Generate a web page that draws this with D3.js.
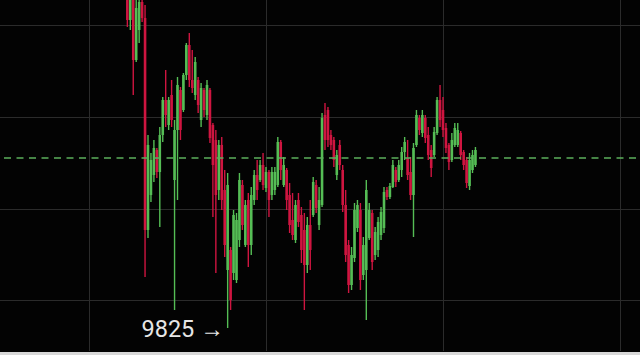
<!DOCTYPE html>
<html>
<head>
<meta charset="utf-8">
<script src="https://cdn.jsdelivr.net/npm/d3@7"></script>
<style>
  html, body { margin: 0; padding: 0; background: #000; }
  svg { display: block; }
</style>
</head>
<body>
<svg id="chart" width="640" height="355"></svg>
<script>
// minute of each candle, counted from the first vertical grid line
var minutes = d3.range(13, 132);

var open = [10168,10133,10153,10093,10123,10151,10135,9923,9958,9978,10003,9981,10018,10053,10028,10058,9973,10023,10063,10043,
            10078,10108,10073,10058,10073,10033,10063,10038,10063,10028,10013,9963,10008,9963,9883,9903,9880,9873,9913,9968,
            9908,9953,9908,9953,9978,9973,9988,9965,9981,9958,9963,9968,10011,9968,9983,9958,9933,9913,9953,9938,
            9923,9888,9928,9938,9968,9928,9948,10038,10043,10018,10013,9978,10008,9983,9948,9908,9868,9895,9925,9943,
            9878,9883,9915,9940,9898,9903,9918,9925,9963,9956,9966,9983,9973,9983,10001,9995,9981,9958,10008,10035,
            10020,10035,10018,10003,9998,10020,10053,10043,10025,10008,9993,10008,10008,10020,10001,9993,9967,9983,9988];
var high = [10178,10163,10158,10158,10163,10163,10148,10018,10000,10013,10005,10026,10056,10083,10056,10073,10033,10076,10066,10080,
            10110,10120,10103,10096,10076,10070,10065,10073,10065,10030,10023,10013,10016,9983,9980,9906,9943,9940,9980,9973,
            9953,9960,9966,9983,9993,9993,10000,9986,9983,9986,9986,10016,10013,9996,9985,9970,9960,9953,9960,9946,
            9940,9936,9953,9976,9973,9966,10040,10050,10046,10023,10016,10003,10013,9988,9963,9913,9906,9950,9953,9950,
            9916,9973,9950,9943,9926,9936,9946,9966,9966,9970,9993,9986,9993,10006,10016,10013,9996,10010,10043,10038,
            10043,10038,10026,10008,10026,10056,10068,10056,10030,10010,10020,10030,10030,10022,10003,9996,10000,10003,10006];
var low = [10126,10123,10058,10091,10110,10131,9876,9915,9951,9971,9975,9926,10011,10026,10023,10026,9843,9953,10013,10041,
           10073,10066,10060,10053,10040,10026,10036,10033,10010,9936,9880,9953,9943,9896,9825,9843,9873,9870,9906,9923,
           9906,9886,9898,9948,9953,9971,9963,9961,9936,9953,9958,9966,9973,9966,9943,9920,9913,9910,9926,9890,
           9843,9880,9883,9936,9940,9923,9946,10003,10006,10003,9986,9973,9983,9941,9891,9860,9863,9891,9921,9863,
           9873,9833,9913,9883,9893,9896,9913,9920,9953,9954,9965,9966,9971,9976,9993,9973,9953,9916,10006,10018,
           10016,10010,9993,9976,9996,10018,10026,10016,10000,9983,9991,10006,10006,9993,9983,9965,9963,9980,9986];
var close = [10133,10153,10093,10145,10151,10135,9923,10008,9993,10005,9981,10018,10053,10038,10053,10033,10023,10068,10023,10078,
             10108,10073,10065,10091,10048,10065,10043,10068,10015,9988,9958,10008,9953,9908,9968,9853,9938,9933,9973,9928,
             9948,9908,9958,9978,9963,9988,9968,9981,9953,9981,9981,10011,9983,9988,9953,9928,9918,9948,9931,9903,
             9888,9928,9903,9971,9945,9953,10035,10013,10013,10008,9993,9998,9988,9948,9898,9868,9898,9943,9948,9873,
             9908,9963,9943,9891,9921,9931,9941,9961,9956,9967,9988,9971,9988,10001,10011,9978,9958,10005,10038,10023,
             10038,10015,9998,9985,10021,10053,10033,10023,10005,9991,10013,10025,10023,9998,9988,9970,9993,9998,10003];

// dashed reference price and horizontal grid levels
var refPrice = 9995;
var gridLevels = [10128, 10036, 9944, 9853];
var gridMinutes = [0, 60, 120, 180];

var width = 640, height = 355, plotBottom = 351;

var data = minutes.map(function(m, i) {
  return { t: m, o: open[i], h: high[i], l: low[i], c: close[i] };
});

var x = d3.scaleLinear().domain([0, 60]).range([89, 266]);
var y = d3.scaleLinear().domain([9825, 10153]).range([328, 0]);

var svg = d3.select("#chart");

svg.append("rect")
   .attr("width", width)
   .attr("height", height)
   .attr("fill", "#030303");

var plot = svg.append("g");

// grid
plot.selectAll(".hgrid")
    .data(gridLevels)
    .enter()
    .append("line")
    .attr("class", "hgrid")
    .attr("x1", 0)
    .attr("x2", width)
    .attr("y1", function(d) { return Math.round(y(d)) + 0.5; })
    .attr("y2", function(d) { return Math.round(y(d)) + 0.5; })
    .attr("stroke", "#2b2b2b")
    .attr("stroke-width", 1);

plot.selectAll(".vgrid")
    .data(gridMinutes)
    .enter()
    .append("line")
    .attr("class", "vgrid")
    .attr("x1", function(d) { return Math.round(x(d)) + 0.5; })
    .attr("x2", function(d) { return Math.round(x(d)) + 0.5; })
    .attr("y1", 0)
    .attr("y2", plotBottom)
    .attr("stroke", "#2b2b2b")
    .attr("stroke-width", 1);

var up = "#55bd55", down = "#cf1540";

function color(d) { return d.c >= d.o ? up : down; }

var candles = plot.selectAll(".candle")
    .data(data)
    .enter()
    .append("g")
    .attr("class", "candle");

candles.append("line")
    .attr("x1", function(d) { return x(d.t); })
    .attr("x2", function(d) { return x(d.t); })
    .attr("y1", function(d) { return y(d.h); })
    .attr("y2", function(d) { return y(d.l); })
    .attr("stroke", color)
    .attr("stroke-width", 1.4);

candles.append("rect")
    .attr("x", function(d) { return x(d.t) - 1.3; })
    .attr("width", 2.6)
    .attr("y", function(d) { return y(Math.max(d.o, d.c)); })
    .attr("height", function(d) { return Math.max(1, Math.abs(y(d.o) - y(d.c))); })
    .attr("fill", color);

// reference line
plot.append("line")
    .attr("x1", 4)
    .attr("x2", width)
    .attr("y1", y(refPrice))
    .attr("y2", y(refPrice))
    .attr("stroke", "#5cb05c")
    .attr("stroke-width", 1.3)
    .attr("stroke-dasharray", "7,5.5");

// low marker
var lowest = data.reduce(function(a, b) { return b.l < a.l ? b : a; });

svg.append("text")
   .attr("x", x(lowest.t) - 4)
   .attr("y", y(lowest.l) + 9)
   .attr("text-anchor", "end")
   .attr("fill", "#e6e6e6")
   .attr("font-family", "Roboto, 'Noto Sans', sans-serif")
   .attr("font-size", 23.5)
   .text(lowest.l + " \u2192");

// light strip at the bottom edge
svg.append("rect")
   .attr("x", 0)
   .attr("y", 352)
   .attr("width", width)
   .attr("height", 3)
   .attr("fill", "#d8d8d8");
</script>
</body>
</html>
